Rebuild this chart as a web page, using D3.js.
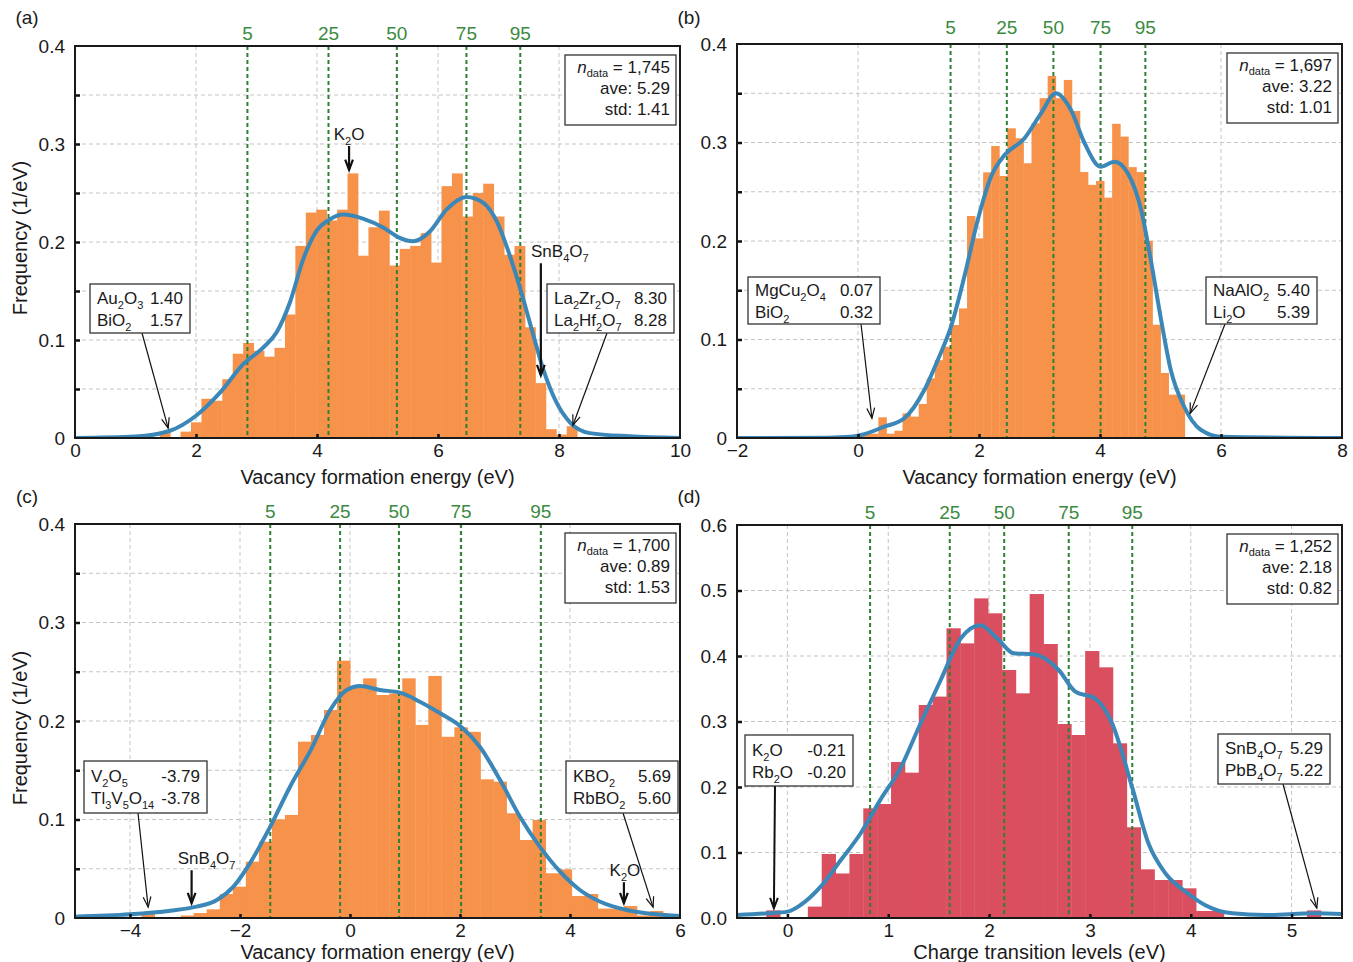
<!DOCTYPE html>
<html>
<head>
<meta charset="utf-8">
<script src="https://cdn.jsdelivr.net/npm/d3@7"></script>
<style>
  body { margin: 0; background: #fff; }
  text { font-family: "Liberation Sans", Arial, sans-serif; fill: #1a1a1a; }
</style>
</head>
<body>
<svg id="chart" width="1353" height="962"></svg>
<script>
// ---------------- data ----------------
const percentileNames = ["5", "25", "50", "75", "95"];

// (a) vacancy formation energy
const aBinRange = [1.40, 8.30];
const aHeights = [0.0066, 0.0, 0.0065, 0.016, 0.040, 0.038, 0.060, 0.086, 0.097, 0.089,
    0.083, 0.092, 0.126, 0.196, 0.230, 0.233, 0.222, 0.233, 0.270, 0.186,
    0.215, 0.232, 0.176, 0.193, 0.196, 0.209, 0.179, 0.257, 0.270, 0.226,
    0.250, 0.2595, 0.226, 0.187, 0.196, 0.113, 0.056, 0.009, 0.0035, 0.012];
const aKdeX = [0, 1.0, 1.57, 2.0, 2.4, 2.78, 3.11, 3.33, 3.55, 3.77, 3.99, 4.21, 4.43, 4.77, 5.10,
    5.34, 5.59, 5.87, 6.14, 6.47, 6.75, 6.97, 7.19, 7.38, 7.58, 7.74, 7.96, 8.18, 8.51, 9.17, 10];
const aKdeY = [0, 0.0015, 0.0074, 0.0227, 0.0465, 0.0753, 0.0923, 0.1076, 0.138, 0.182, 0.211, 0.223, 0.228, 0.2236, 0.2145,
    0.205, 0.2008, 0.211, 0.233, 0.246, 0.240, 0.2212, 0.1856, 0.148, 0.104, 0.070, 0.036, 0.016, 0.005, 0.0017, 0];
const aPercentiles = [2.85, 4.19, 5.32, 6.47, 7.36];
const aStats = ["1,745", "5.29", "1.41"];

// (b) vacancy formation energy
const bBinRange = [0.07, 5.40];
const bHeights = [0.0044, 0.0044, 0.021, 0.0044, 0.0074, 0.025, 0.0217, 0.0345, 0.0606, 0.079,
    0.0927, 0.1147, 0.1316, 0.2254, 0.2027, 0.2697, 0.2964, 0.266, 0.3144, 0.3043,
    0.2789, 0.3195, 0.345, 0.3675, 0.345, 0.3635, 0.332, 0.27, 0.257, 0.261,
    0.244, 0.319, 0.306, 0.275, 0.270, 0.200, 0.115, 0.066, 0.044, 0.044];
const bKdeX = [-2, -0.5, -0.12, 0.05, 0.435, 0.765, 1.096, 1.317, 1.537, 1.757, 1.978, 2.198, 2.418, 2.749,
    3.025, 3.27, 3.52, 3.74, 4.01, 4.24, 4.46, 4.68, 4.84, 5.01, 5.17, 5.39, 5.67, 6.0, 8];
const bKdeY = [0, 0.0003, 0.0012, 0.003, 0.0115, 0.020, 0.0487, 0.079, 0.113, 0.1637, 0.221, 0.2653, 0.287, 0.304,
    0.3296, 0.350, 0.333, 0.300, 0.2754, 0.2805, 0.2687, 0.2315, 0.1807, 0.12, 0.069, 0.032, 0.0081, 0.0013, 0];
const bPercentiles = [1.53, 2.46, 3.23, 4.01, 4.75];
const bStats = ["1,697", "3.22", "1.01"];

// (c) vacancy formation energy
const cBinRange = [-3.79, 5.69];
const cHeights = [0.005, 0, 0, 0.0025, 0.005, 0.0088, 0.0243, 0.0318, 0.0572, 0.0775,
    0.1002, 0.1046, 0.179, 0.1858, 0.2112, 0.2612, 0.235, 0.2433, 0.2264, 0.228,
    0.2433, 0.196, 0.2457, 0.184, 0.1936, 0.189, 0.1408, 0.1384, 0.1063, 0.0792,
    0.0995, 0.0454, 0.0494, 0.0223, 0.0244, 0.0095, 0.0095, 0.0122, 0.0025, 0.0071];
const cKdeX = [-5, -4.0, -3.27, -2.79, -2.42, -2.12, -1.82, -1.45, -1.09, -0.70, -0.36, -0.06, 0.18, 0.545,
    0.91, 1.27, 1.64, 2.03, 2.36, 2.73, 3.09, 3.45, 3.82, 4.18, 4.55, 5.03, 5.52, 6];
const cKdeY = [0.0013, 0.0037, 0.0074, 0.0115, 0.0183, 0.0318, 0.0555, 0.0927, 0.1333, 0.172, 0.2112, 0.2315, 0.2355, 0.2315,
    0.2288, 0.2196, 0.2078, 0.1936, 0.1739, 0.140, 0.1028, 0.0724, 0.047, 0.0284, 0.0165, 0.0081, 0.004, 0.002];
const cPercentiles = [-1.45, -0.18, 0.89, 2.02, 3.47];
const cStats = ["1,700", "0.89", "1.53"];

// (d) charge transition levels
const dBinRange = [-0.21, 5.29];
const dHeights = [0.0116, 0, 0, 0.0174, 0.0977, 0.068, 0.0977, 0.1674, 0.174, 0.2382,
    0.2219, 0.3252, 0.338, 0.4423, 0.4193, 0.488, 0.4652, 0.3786, 0.343, 0.4946,
    0.4183, 0.2962, 0.2794, 0.4076, 0.3827, 0.2667, 0.1385, 0.0743, 0.058, 0.058,
    0.0453, 0.0107, 0.0107, 0, 0, 0, 0, 0, 0, 0.0116];
const dKdeX = [-0.5, -0.2, 0.0, 0.13, 0.33, 0.53, 0.725, 0.92, 1.12, 1.32, 1.52, 1.72, 1.915, 2.08, 2.245,
    2.44, 2.69, 2.856, 3.05, 3.22, 3.417, 3.58, 3.75, 3.95, 4.14, 4.41, 4.74, 5.23, 5.5];
const dKdeY = [0.0046, 0.0071, 0.0097, 0.0198, 0.0478, 0.0885, 0.129, 0.180, 0.2285, 0.297, 0.3634, 0.427, 0.447, 0.427, 0.4041,
    0.4025, 0.3786, 0.3455, 0.3354, 0.2972, 0.2005, 0.114, 0.068, 0.040, 0.0198, 0.0071, 0.0046, 0.0071, 0.006];
const dPercentiles = [0.82, 1.61, 2.15, 2.79, 3.42];
const dStats = ["1,252", "2.18", "0.82"];

// ---------------- styles ----------------
const ORANGE = "#f6924a";
const RED = "#da4f5f";
const KDE_BLUE = "#3b87b8";
const GREEN = "#2f7f35";
const GRID = "#c4c4c4";

const svg = d3.select("#chart");

const fmtTrim = d => d === 0 ? "0" : d3.format(".1f")(d);
const fmtFixed = d => d3.format(".1f")(d);
const fmtInt = d3.format("~g");

const panels = [
    {
        letter: "(a)", left: 75, right: 680, top: 46, bottom: 438,
        xDomain: [0, 10], yDomain: [0, 0.4], xTicks: [0, 2, 4, 6, 8, 10], yStep: 0.05, yFmt: fmtTrim,
        binRange: aBinRange, heights: aHeights, kdeX: aKdeX, kdeY: aKdeY, pct: aPercentiles, stats: aStats,
        color: ORANGE, xTitle: "Vacancy formation energy (eV)", xTitleDy: 39, yTitleY: 238, pctLift: 0,
        boxes: [
            { x: 15, y: 238, w: 100, h: 49, rows: [["Au_2O_3", "1.40"], ["BiO_2", "1.57"]], tail: 67, tip: [1.54, 0.010] },
            { x: 472, y: 238, w: 127, h: 49, rows: [["La_2Zr_2O_7", "8.30"], ["La_2Hf_2O_7", "8.28"]], tail: 532, tip: [8.23, 0.013] }
        ],
        labels: [
            { text: "K_2O", tip: [4.53, 0.2735], len: 24, dx: 0 },
            { text: "SnB_4O_7", tip: [7.70, 0.064], len: 112, dx: 19 }
        ]
    },
    {
        letter: "(b)", left: 737, right: 1342, top: 44, bottom: 438,
        xDomain: [-2, 8], yDomain: [0, 0.4], xTicks: [-2, 0, 2, 4, 6, 8], yStep: 0.05, yFmt: fmtTrim,
        binRange: bBinRange, heights: bHeights, kdeX: bKdeX, kdeY: bKdeY, pct: bPercentiles, stats: bStats,
        color: ORANGE, xTitle: "Vacancy formation energy (eV)", xTitleDy: 39, yTitleY: null, pctLift: 4,
        boxes: [
            { x: 11, y: 233, w: 132, h: 47, rows: [["MgCu_2O_4", "0.07"], ["BiO_2", "0.32"]], tail: 124, tip: [0.23, 0.020] },
            { x: 469, y: 233, w: 111, h: 47, rows: [["NaAlO_2", "5.40"], ["Li_2O", "5.39"]], tail: 488, tip: [5.49, 0.025] }
        ],
        labels: []
    },
    {
        letter: "(c)", left: 75, right: 680, top: 524, bottom: 918,
        xDomain: [-5, 6], yDomain: [0, 0.4], xTicks: [-4, -2, 0, 2, 4, 6], yStep: 0.05, yFmt: fmtTrim,
        binRange: cBinRange, heights: cHeights, kdeX: cKdeX, kdeY: cKdeY, pct: cPercentiles, stats: cStats,
        color: ORANGE, xTitle: "Vacancy formation energy (eV)", xTitleDy: 34, yTitleY: 728, pctLift: 0,
        boxes: [
            { x: 9, y: 237, w: 123, h: 52, rows: [["V_2O_5", "-3.79"], ["Tl_3V_5O_14", "-3.78"]], tail: 63, tip: [-3.67, 0.011] },
            { x: 491, y: 237, w: 112, h: 52, rows: [["KBO_2", "5.69"], ["RbBO_2", "5.60"]], tail: 548, tip: [5.51, 0.011] }
        ],
        labels: [
            { text: "SnB_4O_7", tip: [-2.88, 0.015], len: 33, dx: 15 },
            { text: "K_2O", tip: [4.98, 0.015], len: 21, dx: 1 }
        ]
    },
    {
        letter: "(d)", left: 737, right: 1342, top: 525, bottom: 918,
        xDomain: [-0.5, 5.5], yDomain: [0, 0.6], xTicks: [0, 1, 2, 3, 4, 5], yStep: 0.1, yFmt: fmtFixed,
        binRange: dBinRange, heights: dHeights, kdeX: dKdeX, kdeY: dKdeY, pct: dPercentiles, stats: dStats,
        color: RED, xTitle: "Charge transition levels (eV)", xTitleDy: 34, yTitleY: null, pctLift: 0,
        boxes: [
            { x: 8, y: 210, w: 108, h: 51, rows: [["K_2O", "-0.21"], ["Rb_2O", "-0.20"]], tail: 38, tip: [-0.134, 0.015], thick: true },
            { x: 481, y: 209, w: 112, h: 50, rows: [["SnB_4O_7", "5.29"], ["PbB_4O_7", "5.22"]], tail: 546, tip: [5.25, 0.015] }
        ],
        labels: []
    }
];

// formula text with numeric subscripts written as "_n"
function richText(sel, str, subSize) {
    var parts = str.split(/_(\d+)/);
    var shifted = false;
    parts.forEach(function (s, i) {
        if (!s) return;
        if (i % 2 === 1) {
            sel.append("tspan").attr("font-size", subSize).attr("dy", shifted ? 0 : 5).text(s);
            shifted = true;
        } else {
            sel.append("tspan").attr("dy", shifted ? -5 : 0).text(s);
            shifted = false;
        }
    });
}

function arrow(g, x1, y1, x2, y2, w) {
    var ang = Math.atan2(y2 - y1, x2 - x1), L = 11, a = 0.36;
    g.append("line")
        .attr("x1", x1).attr("y1", y1).attr("x2", x2).attr("y2", y2)
        .attr("stroke", "#111").attr("stroke-width", w);
    g.append("path")
        .attr("d", "M" + (x2 - L * Math.cos(ang - a)) + "," + (y2 - L * Math.sin(ang - a)) +
            "L" + x2 + "," + y2 +
            "L" + (x2 - L * Math.cos(ang + a)) + "," + (y2 - L * Math.sin(ang + a)))
        .attr("fill", "none").attr("stroke", "#111").attr("stroke-width", w)
        .attr("stroke-linejoin", "miter");
}

function drawPanel(p, idx) {
    var x = d3.scaleLinear().domain(p.xDomain).range([p.left, p.right]);
    var y = d3.scaleLinear().domain(p.yDomain).range([p.bottom, p.top]);
    var g = svg.append("g");

    var clipId = "clip" + idx;
    svg.append("clipPath").attr("id", clipId)
        .append("rect").attr("x", p.left).attr("y", p.top)
        .attr("width", p.right - p.left).attr("height", p.bottom - p.top);

    var yTicks = d3.range(p.yDomain[0], p.yDomain[1] + 1e-9, p.yStep);

    // grid
    g.selectAll("line.vgrid")
        .data(p.xTicks.filter(t => t > p.xDomain[0] && t < p.xDomain[1]))
        .enter().append("line")
        .attr("x1", d => x(d)).attr("x2", d => x(d))
        .attr("y1", p.top).attr("y2", p.bottom)
        .attr("stroke", GRID).attr("stroke-width", 1).attr("stroke-dasharray", "4,3");
    g.selectAll("line.hgrid")
        .data(yTicks.filter(t => t > p.yDomain[0] + 1e-9 && t < p.yDomain[1] - 1e-9))
        .enter().append("line")
        .attr("x1", p.left).attr("x2", p.right)
        .attr("y1", d => y(d)).attr("y2", d => y(d))
        .attr("stroke", GRID).attr("stroke-width", 1).attr("stroke-dasharray", "4,3");

    // histogram
    var n = p.heights.length, lo = p.binRange[0], hi = p.binRange[1];
    var edges = d3.range(n + 1).map(i => lo + (hi - lo) * i / n);
    g.append("g").selectAll("rect")
        .data(p.heights)
        .enter().append("rect")
        .attr("x", (d, i) => x(edges[i]))
        .attr("width", (d, i) => x(edges[i + 1]) - x(edges[i]) + 0.4)
        .attr("y", d => y(d))
        .attr("height", d => y(0) - y(d))
        .attr("fill", p.color);

    // percentile lines
    g.selectAll("line.pct")
        .data(p.pct)
        .enter().append("line")
        .attr("x1", d => x(d)).attr("x2", d => x(d))
        .attr("y1", p.top).attr("y2", p.bottom)
        .attr("stroke", GREEN).attr("stroke-width", 2).attr("stroke-dasharray", "4,3");
    g.selectAll("text.pct")
        .data(p.pct)
        .enter().append("text")
        .attr("x", d => x(d)).attr("y", p.top - 6 - p.pctLift)
        .attr("text-anchor", "middle")
        .style("font-size", "19px").style("fill", "#3b8a3f")
        .text((d, i) => percentileNames[i]);

    // kde
    var line = d3.line()
        .x(d => x(d[0])).y(d => y(d[1]))
        .curve(d3.curveMonotoneX);
    g.append("path")
        .datum(d3.zip(p.kdeX, p.kdeY))
        .attr("clip-path", "url(#" + clipId + ")")
        .attr("d", line)
        .attr("fill", "none").attr("stroke", KDE_BLUE).attr("stroke-width", 4);

    // axes (inward ticks)
    var xAxis = g.append("g")
        .attr("transform", "translate(0," + p.bottom + ")")
        .call(d3.axisBottom(x).tickValues(p.xTicks).tickFormat(fmtInt).tickSize(-4).tickPadding(6));
    var yAxis = g.append("g")
        .attr("transform", "translate(" + p.left + ",0)")
        .call(d3.axisLeft(y).tickValues(yTicks).tickSize(-5).tickPadding(10)
            .tickFormat(d => Math.abs(d * 10 - Math.round(d * 10)) < 1e-6 ? p.yFmt(Math.round(d * 10) / 10) : ""));
    [xAxis, yAxis].forEach(function (ax) {
        ax.select(".domain").remove();
        ax.selectAll(".tick line").attr("stroke", "#111").attr("stroke-width", 2.5);
        ax.selectAll(".tick text").style("font-size", "19px").style("font-family", "'Liberation Sans', Arial, sans-serif").attr("fill", "#1a1a1a");
    });
    xAxis.selectAll(".tick").filter(d => d === p.xDomain[0] || d === p.xDomain[1]).select("line").remove();
    yAxis.selectAll(".tick").filter(d => d < 1e-9 || d > p.yDomain[1] - 1e-9).select("line").remove();

    // frame
    g.append("rect")
        .attr("x", p.left).attr("y", p.top)
        .attr("width", p.right - p.left).attr("height", p.bottom - p.top)
        .attr("fill", "none").attr("stroke", "#1a1a1a").attr("stroke-width", 2);

    // titles
    g.append("text")
        .attr("x", (p.left + p.right) / 2).attr("y", p.bottom + p.xTitleDy + 7)
        .attr("text-anchor", "middle").style("font-size", "20px")
        .text(p.xTitle);
    if (p.yTitleY) {
        g.append("text")
            .attr("transform", "translate(27," + p.yTitleY + ")rotate(-90)")
            .attr("text-anchor", "middle").style("font-size", "20px")
            .text("Frequency (1/eV)");
    }
    g.append("text")
        .attr("x", p.left - 48).attr("y", p.top < 100 ? 24 : 503)
        .attr("text-anchor", "middle").style("font-size", "19px")
        .text(p.letter);

    // stats box
    var sw = 111, sh = 70, sx = p.right - 4 - sw, sy = p.top + 9;
    g.append("rect")
        .attr("x", sx).attr("y", sy).attr("width", sw).attr("height", sh)
        .attr("fill", "#fff").attr("stroke", "#333").attr("stroke-width", 1.3);
    var t1 = g.append("text")
        .attr("x", sx + sw - 6).attr("y", sy + 18)
        .attr("text-anchor", "end").style("font-size", "17px");
    t1.append("tspan").style("font-style", "italic").text("n");
    t1.append("tspan").attr("font-size", 11).attr("dy", 4).text("data");
    t1.append("tspan").attr("dy", -4).text(" = " + p.stats[0]);
    g.append("text")
        .attr("x", sx + sw - 6).attr("y", sy + 39)
        .attr("text-anchor", "end").style("font-size", "17px")
        .text("ave: " + p.stats[1]);
    g.append("text")
        .attr("x", sx + sw - 6).attr("y", sy + 60)
        .attr("text-anchor", "end").style("font-size", "17px")
        .text("std: " + p.stats[2]);

    // annotation boxes with arrows
    p.boxes.forEach(function (b) {
        var bx = p.left + b.x, by = p.top + b.y;
        arrow(g, p.left + b.tail, by + b.h, x(b.tip[0]), y(b.tip[1]), b.thick ? 2 : 1.2);
        g.append("rect")
            .attr("x", bx).attr("y", by).attr("width", b.w).attr("height", b.h)
            .attr("fill", "#fff").attr("stroke", "#333").attr("stroke-width", 1.3);
        b.rows.forEach(function (r, i) {
            var ty = by + (b.h / 2 - 5) + i * 22;
            var t = g.append("text").attr("x", bx + 7).attr("y", ty).style("font-size", "17px");
            richText(t, r[0], 11);
            g.append("text").attr("x", bx + b.w - 7).attr("y", ty)
                .attr("text-anchor", "end").style("font-size", "17px").text(r[1]);
        });
    });

    // labelled arrows
    p.labels.forEach(function (l) {
        var tx = x(l.tip[0]), ty = y(l.tip[1]);
        arrow(g, tx, ty - l.len, tx, ty, 2.2);
        var t = g.append("text")
            .attr("x", tx + l.dx).attr("y", ty - l.len - 6)
            .attr("text-anchor", "middle").style("font-size", "17px");
        richText(t, l.text, 11);
    });
}

panels.forEach(drawPanel);
</script>
</body>
</html>
